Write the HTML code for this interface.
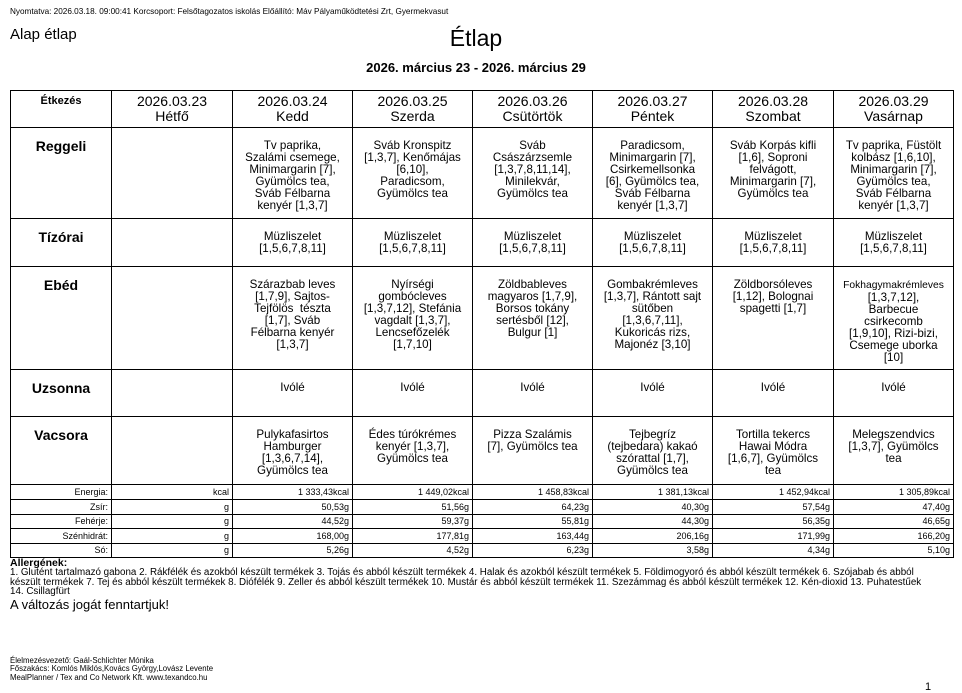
<!DOCTYPE html>
<html><head><meta charset="utf-8">
<style>
*{margin:0;padding:0;box-sizing:border-box}
body{width:962px;height:693px;background:#fff;font-family:"Liberation Sans",Arial,sans-serif;color:#000;position:relative;overflow:hidden}
.a{position:absolute;white-space:nowrap}
table{position:absolute;left:10px;top:90px;border-collapse:collapse;table-layout:fixed;width:943px}
td{border:1px solid #000;vertical-align:top;text-align:center;font-size:11.6px;line-height:12px;padding-top:12px;overflow:hidden}
td.h{font-size:14px;line-height:15px;padding-top:3px}
td.l{font-size:14px;font-weight:bold;padding-top:11px;line-height:14px}
td.e{font-size:11px;font-weight:bold;padding-top:4px}
tr.n td{font-size:9px;line-height:11px;padding:1px 3px 0 0;text-align:right;vertical-align:middle}
</style></head><body>
<div class="a" style="left:10px;top:7px;font-size:8.2px">Nyomtatva: 2026.03.18. 09:00:41 Korcsoport: Felsőtagozatos iskolás Előállító: Máv Pályaműködtetési Zrt, Gyermekvasut</div>
<div class="a" style="left:10px;top:26px;font-size:15px">Alap étlap</div>
<div class="a" style="left:0;width:952px;text-align:center;top:25px;font-size:23px">Étlap</div>
<div class="a" style="left:0;width:952px;text-align:center;top:60px;font-size:13px;font-weight:bold">2026. március 23 - 2026. március 29</div>
<table>
<colgroup><col style="width:101px"><col style="width:121px"><col style="width:120px"><col style="width:120px"><col style="width:120px"><col style="width:120px"><col style="width:121px"><col style="width:120px"></colgroup>
<tr style="height:37px"><td class="e">Étkezés</td><td class="h">2026.03.23<br>Hétfő</td><td class="h">2026.03.24<br>Kedd</td><td class="h">2026.03.25<br>Szerda</td><td class="h">2026.03.26<br>Csütörtök</td><td class="h">2026.03.27<br>Péntek</td><td class="h">2026.03.28<br>Szombat</td><td class="h">2026.03.29<br>Vasárnap</td></tr>
<tr style="height:91px"><td class="l">Reggeli</td><td></td><td>Tv paprika,<br>Szalámi csemege,<br>Minimargarin [7],<br>Gyümölcs tea,<br>Sváb Félbarna<br>kenyér [1,3,7]</td><td>Sváb Kronspitz<br>[1,3,7], Kenőmájas<br>[6,10],<br>Paradicsom,<br>Gyümölcs tea</td><td>Sváb<br>Császárzsemle<br>[1,3,7,8,11,14],<br>Minilekvár,<br>Gyümölcs tea</td><td>Paradicsom,<br>Minimargarin [7],<br>Csirkemellsonka<br>[6], Gyümölcs tea,<br>Sváb Félbarna<br>kenyér [1,3,7]</td><td>Sváb Korpás kifli<br>[1,6], Soproni<br>felvágott,<br>Minimargarin [7],<br>Gyümölcs tea</td><td>Tv paprika, Füstölt<br>kolbász [1,6,10],<br>Minimargarin [7],<br>Gyümölcs tea,<br>Sváb Félbarna<br>kenyér [1,3,7]</td></tr>
<tr style="height:48px"><td class="l">Tízórai</td><td></td><td>Müzliszelet<br>[1,5,6,7,8,11]</td><td>Müzliszelet<br>[1,5,6,7,8,11]</td><td>Müzliszelet<br>[1,5,6,7,8,11]</td><td>Müzliszelet<br>[1,5,6,7,8,11]</td><td>Müzliszelet<br>[1,5,6,7,8,11]</td><td>Müzliszelet<br>[1,5,6,7,8,11]</td></tr>
<tr style="height:103px"><td class="l">Ebéd</td><td></td><td>Szárazbab leves<br>[1,7,9], Sajtos-<br>Tejfölös&nbsp; tészta<br>[1,7], Sváb<br>Félbarna kenyér<br>[1,3,7]</td><td>Nyírségi<br>gombócleves<br>[1,3,7,12], Stefánia<br>vagdalt [1,3,7],<br>Lencsefőzelék<br>[1,7,10]</td><td>Zöldbableves<br>magyaros [1,7,9],<br>Borsos tokány<br>sertésből [12],<br>Bulgur [1]</td><td>Gombakrémleves<br>[1,3,7], Rántott sajt<br>sütőben<br>[1,3,6,7,11],<br>Kukoricás rizs,<br>Majonéz [3,10]</td><td>Zöldborsóleves<br>[1,12], Bolognai<br>spagetti [1,7]</td><td><span style="font-size:10.3px">Fokhagymakrémleves</span><br>[1,3,7,12],<br>Barbecue<br>csirkecomb<br>[1,9,10], Rizi-bizi,<br>Csemege uborka<br>[10]</td></tr>
<tr style="height:47px"><td class="l">Uzsonna</td><td></td><td>Ivólé</td><td>Ivólé</td><td>Ivólé</td><td>Ivólé</td><td>Ivólé</td><td>Ivólé</td></tr>
<tr style="height:68px"><td class="l">Vacsora</td><td></td><td>Pulykafasirtos<br>Hamburger<br>[1,3,6,7,14],<br>Gyümölcs tea</td><td>Édes túrókrémes<br>kenyér [1,3,7],<br>Gyümölcs tea</td><td>Pizza Szalámis<br>[7], Gyümölcs tea</td><td>Tejbegríz<br>(tejbedara) kakaó<br>szórattal [1,7],<br>Gyümölcs tea</td><td>Tortilla tekercs<br>Hawai Módra<br>[1,6,7], Gyümölcs<br>tea</td><td>Melegszendvics<br>[1,3,7], Gyümölcs<br>tea</td></tr>
<tr class="n" style="height:15px"><td>Energia:</td><td>kcal</td><td>1 333,43kcal</td><td>1 449,02kcal</td><td>1 458,83kcal</td><td>1 381,13kcal</td><td>1 452,94kcal</td><td>1 305,89kcal</td></tr>
<tr class="n" style="height:14.5px"><td>Zsír:</td><td>g</td><td>50,53g</td><td>51,56g</td><td>64,23g</td><td>40,30g</td><td>57,54g</td><td>47,40g</td></tr>
<tr class="n" style="height:14.5px"><td>Fehérje:</td><td>g</td><td>44,52g</td><td>59,37g</td><td>55,81g</td><td>44,30g</td><td>56,35g</td><td>46,65g</td></tr>
<tr class="n" style="height:14.5px"><td>Szénhidrát:</td><td>g</td><td>168,00g</td><td>177,81g</td><td>163,44g</td><td>206,16g</td><td>171,99g</td><td>166,20g</td></tr>
<tr class="n" style="height:14.5px"><td>Só:</td><td>g</td><td>5,26g</td><td>4,52g</td><td>6,23g</td><td>3,58g</td><td>4,34g</td><td>5,10g</td></tr>
</table>
<div class="a" style="left:10px;top:557px;font-size:10.5px;font-weight:bold">Allergének:</div>
<div class="a" style="left:10px;top:568px;font-size:9.8px;line-height:9.5px">1. Glutént tartalmazó gabona 2. Rákfélék és azokból készült termékek 3. Tojás és abból készült termékek 4. Halak és azokból készült termékek 5. Földimogyoró és abból készült termékek 6. Szójabab és abból<br>készült termékek 7. Tej és abból készült termékek 8. Diófélék 9. Zeller és abból készült termékek 10. Mustár és abból készült termékek 11. Szezámmag és abból készült termékek 12. Kén-dioxid 13. Puhatestűek<br>14. Csillagfürt</div>
<div class="a" style="left:10px;top:597px;font-size:13px">A változás jogát fenntartjuk!</div>
<div class="a" style="left:10px;top:657px;font-size:7.8px;line-height:8.3px">Élelmezésvezető: Gaál-Schlichter Mónika<br>Főszakács: Komlós Miklós,Kovács György,Lovász Levente<br>MealPlanner / Tex and Co Network Kft. www.texandco.hu</div>
<div class="a" style="left:925px;top:681px;font-size:11px">1</div>
</body></html>
